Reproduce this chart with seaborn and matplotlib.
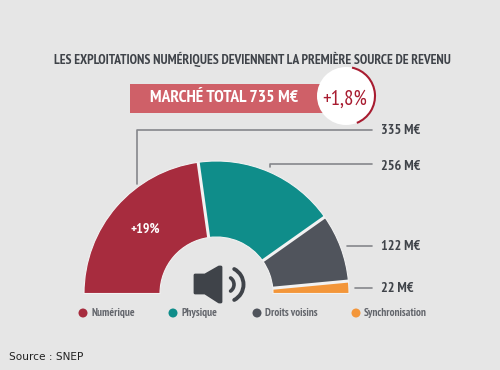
import matplotlib
matplotlib.use('Agg')
import matplotlib.pyplot as plt
import numpy as np
import pandas as pd
import seaborn as sns
from matplotlib.patches import Arc, Circle, Polygon, Rectangle

categories = ['Numérique', 'Physique', 'Droits voisins', 'Synchronisation']
values = [335, 256, 122, 22]
value_labels = ['335 M€', '256 M€', '122 M€', '22 M€']
colors = ['#a72c3e', '#0f8d8a', '#50545c', '#f3963a']
total = 735

BG = '#e6e6e6'
DARK = '#3f4349'
LINE = '#85878b'
EDGE = '#f2f2f2'
NARROW = ['PT Sans Narrow', 'Roboto Condensed', 'Liberation Sans', 'DejaVu Sans']
CX, CY, R_OUT, R_IN = 216.5, 293.5, 132.5, 56.5

sns.set_theme(style='white', rc={'figure.facecolor': BG, 'axes.facecolor': BG})
plt.rcParams['font.family'] = NARROW


def y_(py):
    # pixels de l'image -> coordonnees (origine en bas)
    return 370 - py


fig = plt.figure(figsize=(5, 3.7), dpi=100)
ax = fig.add_axes([0, 0, 1, 1])

# demi-camembert : les parts sont rapportees au double du total
ax.pie([v / (2 * total) for v in values], colors=colors, startangle=180, counterclock=False,
       normalize=False, radius=R_OUT, center=(CX, y_(CY)), frame=True,
       wedgeprops={'width': R_OUT - R_IN, 'edgecolor': EDGE, 'linewidth': 0.8})
ax.set_xlim(0, 500)
ax.set_ylim(0, 370)
ax.set_aspect('equal')
ax.axis('off')

# separations plus larges entre les parts
for a in 180 - 180 * np.cumsum(values[:-1]) / total:
    c, s = np.cos(np.radians(a)), np.sin(np.radians(a))
    ax.plot([CX + R_IN * c, CX + R_OUT * c], [y_(CY) + R_IN * s, y_(CY) + R_OUT * s], color=EDGE, lw=2.2,
            solid_capstyle='butt')

ax.text(145, y_(229.5), '+19%', color='white', fontsize=10, fontweight='bold', ha='center', va='center')

# titre et bandeau
ax.text(252.5, y_(59), 'LES EXPLOITATIONS NUMÉRIQUES DEVIENNENT LA PREMIÈRE SOURCE DE REVENU',
        color=DARK, fontsize=9.75, fontweight='bold', ha='center', va='center')
ax.add_patch(Rectangle((130, y_(113)), 195, 29, color='#cf6068', lw=0))
ax.text(224, y_(98.5), 'MARCHÉ TOTAL 735 M€', color='white', fontsize=12.6, fontweight='bold',
        ha='center', va='center')
ax.add_patch(Circle((346, y_(96)), 29, color='white', lw=0, zorder=3))
ax.add_patch(Arc((346, y_(96)), 58, 58, theta1=-68, theta2=78, color='#a81c30', lw=1.5, zorder=4))
ax.text(344.5, y_(99), '+1,8%', color='#a81c30', fontsize=15, ha='center', va='center', zorder=5)

# traits de rappel
ax.plot([137, 137, 372], [y_(184), y_(129.5), y_(129.5)], color=LINE, lw=1.2)
ax.plot([269.5, 269.5, 372], [y_(167), y_(163.5), y_(163.5)], color=LINE, lw=1.2)
ax.plot([347, 372], [y_(246), y_(246)], color=LINE, lw=1.2)
ax.plot([355, 372], [y_(288), y_(288)], color=LINE, lw=1.2)
for py, lab in zip([131, 166, 247, 289], value_labels):
    ax.text(381, y_(py), lab, color=DARK, fontsize=10.2, fontweight='bold', ha='left', va='center')

# legende
legend_df = pd.DataFrame({'x': [83, 173, 257, 356], 'y': [y_(313)] * 4, 'cat': categories})
sns.scatterplot(data=legend_df, x='x', y='y', hue='cat', palette=colors, s=42, linewidth=0,
                legend=False, ax=ax)
for x, lab in zip(legend_df['x'], categories):
    ax.text(x + 8, y_(313.5), lab, color='#63666c', fontsize=8, fontweight='bold', ha='left', va='center')

# haut-parleur
speaker = [(195, 275), (205, 275), (219, 267), (221, 267), (221, 302), (219, 302), (205, 293), (195, 293)]
ax.add_patch(Polygon([(x, y_(y)) for x, y in speaker], closed=True, facecolor=DARK, edgecolor=DARK,
                     lw=2, joinstyle='round'))
ax.add_patch(Arc((226, y_(284.5)), 16, 16, theta1=-55, theta2=55, color=DARK, lw=2.6, capstyle='round'))
ax.add_patch(Arc((226, y_(284.5)), 35, 35, theta1=-62, theta2=62, color=DARK, lw=2.8, capstyle='round'))

ax.text(9, y_(356.5), 'Source : SNEP', color='#222222', fontsize=7.6, family='DejaVu Sans',
        ha='left', va='center')

fig.savefig('out.png', dpi=100, facecolor=BG)
